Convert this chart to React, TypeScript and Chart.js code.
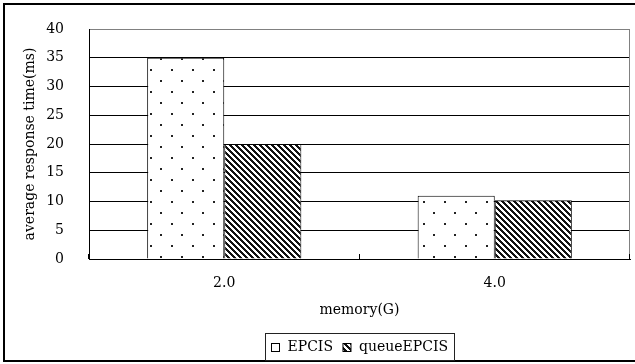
import { useEffect, useRef } from "react";
import { Chart, registerables } from "chart.js";

Chart.register(...registerables);

const categories = ["2.0", "4.0"];
const epcisValues = [35, 11];
const queueValues = [20, 10.2];
const seriesNames = ["EPCIS", "queueEPCIS"];
const yMin = 0;
const yMax = 40;
const yStep = 5;
const xTitle = "memory(G)";
const yTitle = "average response time(ms)";

const FONT = "'DejaVu Serif', 'Liberation Serif', serif";
const FS = 14;

function makeDots(): CanvasPattern | string {
  const t = document.createElement("canvas");
  t.width = 21;
  t.height = 22;
  const c = t.getContext("2d");
  if (!c) return "#fff";
  c.fillStyle = "#fff";
  c.fillRect(0, 0, 21, 22);
  c.fillStyle = "#222";
  c.fillRect(3, 3, 2, 2);
  c.fillRect(13, 14, 2, 2);
  return c.createPattern(t, "repeat") || "#fff";
}

function makeHatch(): CanvasPattern | string {
  const n = 6;
  const t = document.createElement("canvas");
  t.width = n;
  t.height = n;
  const c = t.getContext("2d");
  if (!c) return "#333";
  c.fillStyle = "#fff";
  c.fillRect(0, 0, n, n);
  c.fillStyle = "#111";
  for (let y = 0; y < n; y++) {
    for (let x = 0; x < n; x++) {
      if (((x - y + n * 2) % n) < 3) c.fillRect(x, y, 1, 1);
    }
  }
  return c.createPattern(t, "repeat") || "#333";
}

const framePlugin = {
  id: "frameAndLegend",
  beforeDraw(chart: any) {
    const { ctx, width, height } = chart;
    ctx.save();
    ctx.fillStyle = "#fff";
    ctx.fillRect(0, 0, width, height);
    ctx.strokeStyle = "#000";
    ctx.lineWidth = 2;
    ctx.strokeRect(4, 4, width + 10, height - 7);
    ctx.restore();
  },
  afterDraw(chart: any) {
    const { ctx, chartArea } = chart;
    const xs = chart.scales.x;
    ctx.save();
    ctx.strokeStyle = "#808080";
    ctx.lineWidth = 1;
    ctx.beginPath();
    ctx.moveTo(Math.round(chartArea.right) - 0.5, chartArea.top);
    ctx.lineTo(Math.round(chartArea.right) - 0.5, chartArea.bottom);
    ctx.stroke();
    ctx.strokeStyle = "#000";
    for (let i = 0; i <= categories.length; i++) {
      const px = Math.round(xs.getPixelForValue(i - 0.5)) - 0.5;
      ctx.beginPath();
      ctx.moveTo(px, chartArea.bottom);
      ctx.lineTo(px, chartArea.bottom - 5);
      ctx.stroke();
    }
    ctx.font = `${FS}px ${FONT}`;
    ctx.textBaseline = "middle";
    ctx.textAlign = "left";
    const sw = 8;
    const gapSwText = 8;
    const gapItems = 10;
    const padX = 6;
    const items = chart.data.datasets.map((d: any) => ({
      label: d.label,
      fill: d.legendFill,
      w: ctx.measureText(d.label).width,
    }));
    let total = padX * 2;
    items.forEach((it: any, i: number) => {
      total += sw + gapSwText + it.w + (i < items.length - 1 ? gapItems : 0);
    });
    const cx = (chartArea.left + chartArea.right) / 2;
    const boxL = Math.round(cx - total / 2) + 0.5;
    const boxT = 333.5;
    const boxH = 27;
    ctx.strokeStyle = "#222";
    ctx.strokeRect(boxL, boxT, Math.round(total), boxH);
    let x = boxL + padX;
    const midY = boxT + boxH / 2;
    items.forEach((it: any) => {
      ctx.fillStyle = it.fill;
      ctx.fillRect(x, Math.round(midY - sw / 2) + 0.5, sw, sw);
      ctx.strokeStyle = "#000";
      ctx.strokeRect(x, Math.round(midY - sw / 2) + 0.5, sw, sw);
      x += sw + gapSwText;
      ctx.fillStyle = "#000";
      ctx.fillText(it.label, x, midY);
      x += it.w + gapItems;
    });
    ctx.restore();
  },
};

export default function App() {
  const ref = useRef<HTMLCanvasElement | null>(null);

  useEffect(() => {
    document.body.style.margin = "0";
    const canvas = ref.current;
    if (!canvas) return;
    const dots = makeDots();
    const hatch = makeHatch();
    const chart = new Chart(canvas, {
      type: "bar",
      data: {
        labels: categories,
        datasets: [
          {
            label: seriesNames[0],
            data: epcisValues,
            backgroundColor: dots as any,
            borderColor: "#000",
            borderWidth: 1,
            barPercentage: 1,
            categoryPercentage: 0.57,
            legendFill: "#fff",
          } as any,
          {
            label: seriesNames[1],
            data: queueValues,
            backgroundColor: hatch as any,
            borderColor: "#000",
            borderWidth: 1,
            barPercentage: 1,
            categoryPercentage: 0.57,
            legendFill: hatch,
          } as any,
        ],
      },
      options: {
        responsive: false,
        animation: false,
        devicePixelRatio: 1,
        layout: { padding: { top: 29, right: 5, left: 0, bottom: 0 } },
        plugins: {
          legend: { display: false },
          tooltip: { enabled: false },
        },
        scales: {
          x: {
            grid: { display: false, drawTicks: false },
            border: { color: "#000", width: 1 },
            ticks: {
              color: "#000",
              font: { family: FONT, size: FS },
              padding: 16,
              maxRotation: 0,
            },
            title: {
              display: true,
              text: xTitle,
              color: "#000",
              font: { family: FONT, size: FS },
              padding: { top: 0, bottom: 45 },
            },
            afterFit(scale: any) {
              scale.height = 105;
              scale.paddingLeft = 0;
              scale.paddingRight = 0;
            },
          },
          y: {
            min: yMin,
            max: yMax,
            grid: {
              drawTicks: false,
              color: (c: any) => (c.tick && c.tick.value === yMax ? "#808080" : "#000"),
              lineWidth: 1,
            },
            border: { color: "#000", width: 1 },
            ticks: {
              stepSize: yStep,
              color: "#000",
              font: { family: FONT, size: FS },
              padding: 25,
            },
            title: {
              display: true,
              text: yTitle,
              color: "#000",
              font: { family: FONT, size: FS },
              padding: { top: 22, bottom: 0 },
            },
            afterFit(scale: any) {
              scale.width = 89;
              scale.paddingTop = 0;
              scale.paddingBottom = 0;
            },
          },
        },
      },
      plugins: [framePlugin],
    });
    return () => chart.destroy();
  }, []);

  return (
    <canvas
      ref={ref}
      width={635}
      height={364}
      style={{ display: "block", width: 635, height: 364 }}
    />
  );
}
